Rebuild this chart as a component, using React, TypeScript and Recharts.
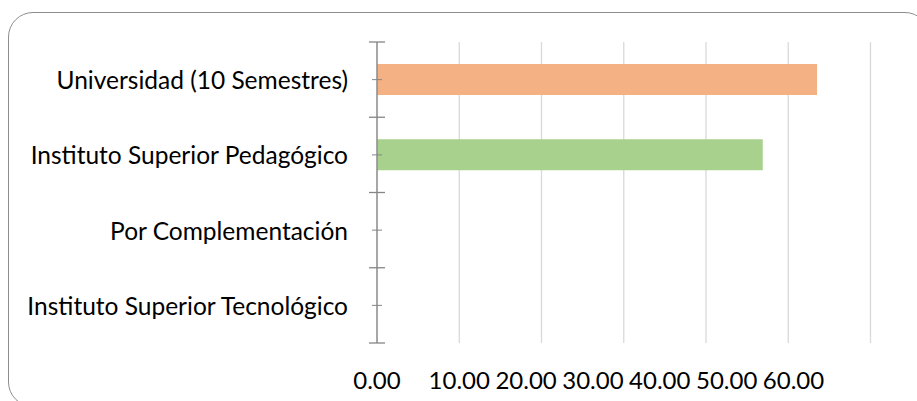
import { BarChart, Bar, XAxis, YAxis, CartesianGrid, Cell } from 'recharts'

const categories = [
  'Universidad (10 Semestres)',
  'Instituto Superior Pedagógico',
  'Por Complementación',
  'Instituto Superior Tecnológico',
]
const values = [53.5, 46.9, 0, 0]
const barColors = ['#F4B183', '#A9D18E', '#9DC3E6', '#FFD966']
const xTicks = [0, 10, 20, 30, 40, 50, 60]

const W = 917
const H = 401
const TOP = 42
const X_AXIS_H = 58
const BAND = (H - TOP - X_AXIS_H) / categories.length
const FONT = 'Lato, "Open Sans", sans-serif'
// the source image squeezes the value labels together after the first one
const LABEL_SQUEEZE = 15.4

const data = categories.map((name, i) => ({ name, value: values[i] }))

const CategoryTick = (props: any) => {
  const { x, y, payload, index } = props
  const last = index === categories.length - 1
  return (
    <g>
      <line x1={x - 5} x2={x + 5} y1={y} y2={y} stroke="#868686" strokeWidth={1} />
      <line x1={x - 8} x2={x + 8} y1={y - BAND / 2} y2={y - BAND / 2} stroke="#868686" strokeWidth={1.3} />
      {last && (
        <line x1={x - 8} x2={x + 8} y1={y + BAND / 2} y2={y + BAND / 2} stroke="#868686" strokeWidth={1.3} />
      )}
      <text x={x - 29} y={y + 9.5} textAnchor="end" fontSize={24.5} fontFamily={FONT} fill="#000">
        {payload.value}
      </text>
    </g>
  )
}

const ValueTick = (props: any) => {
  const { x, y, payload, index } = props
  const lx = index === 0 ? x : x - (index - 1) * LABEL_SQUEEZE
  return (
    <text x={lx} y={y + 45.5} textAnchor="middle" fontSize={24} fontFamily={FONT} fill="#000">
      {payload.value.toFixed(2)}
    </text>
  )
}

export default function App() {
  return (
    <div style={{ position: 'absolute', left: 0, top: 0, width: W, height: H, overflow: 'hidden', background: '#fff' }}>
      <div
        style={{
          position: 'absolute',
          left: 8,
          top: 12,
          width: 922,
          height: 395,
          border: '1.5px solid #8d8d8d',
          borderRadius: 25,
          boxSizing: 'border-box',
        }}
      />
      <div style={{ position: 'absolute', left: 0, top: 0 }}>
        <BarChart
          width={W}
          height={H}
          data={data}
          layout="vertical"
          margin={{ top: TOP, right: 46.5, bottom: 0, left: 0 }}
        >
          <CartesianGrid horizontal={false} stroke="#D9D9D9" strokeWidth={1.3} />
          <XAxis
            type="number"
            domain={[0, 60]}
            ticks={xTicks}
            height={X_AXIS_H}
            axisLine={false}
            tickLine={false}
            tickSize={0}
            tickMargin={0}
            tick={<ValueTick />}
            interval={0}
          />
          <YAxis
            type="category"
            dataKey="name"
            width={377}
            axisLine={{ stroke: '#868686', strokeWidth: 1.3 }}
            tickLine={false}
            tickSize={0}
            tickMargin={0}
            tick={<CategoryTick />}
            interval={0}
          />
          <Bar dataKey="value" barSize={31} isAnimationActive={false}>
            {data.map((d, i) => (
              <Cell key={d.name} fill={barColors[i]} />
            ))}
          </Bar>
        </BarChart>
      </div>
    </div>
  )
}
